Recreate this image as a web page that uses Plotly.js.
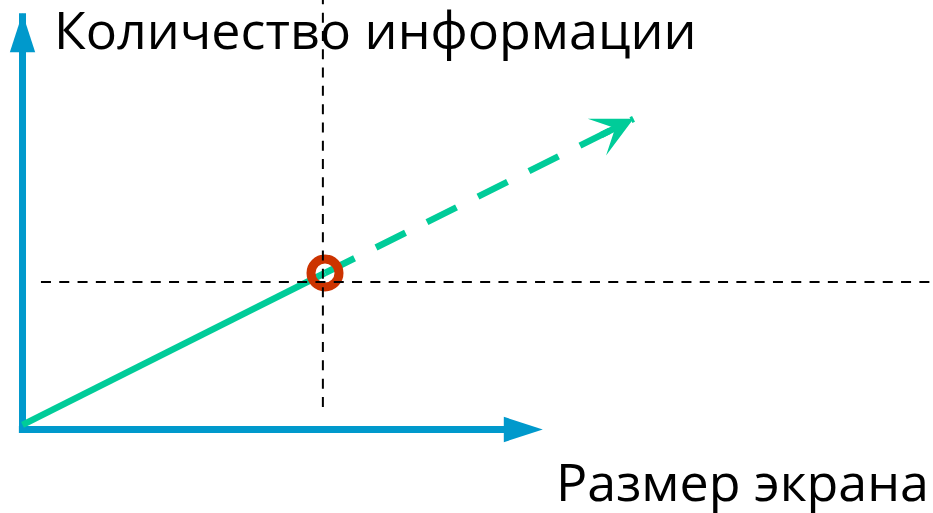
<!DOCTYPE html>
<html>
<head>
<meta charset="utf-8">
<script src="https://cdn.plot.ly/plotly-3.0.1.min.js"></script>
<style>html,body{margin:0;padding:0;background:#fff;}#chart{width:933px;height:513px;}</style>
</head>
<body>
<div id="chart"></div>
<script>
// Conceptual diagram: units where the marked point is (1, 1)
const axisX = [-0.012, 1.72];          // horizontal axis arrow (x values, y = 0)
const axisY = [0, 2.66];               // vertical axis arrow (y values, x = 0)
const solidX = [0.0, 1.0];             // solid part of the trend
const solidY = [0.03, 1.0];
const dashedX = [1.0, 2.02];           // extrapolated (dashed) part of the trend
const dashedY = [1.0, 1.985];
const pointX = [1.0];                  // marked point
const pointY = [1.0];
const refX = 0.993;                    // vertical reference line
const refXSpan = [0.144, 2.75];
const refY = 0.9425;                   // horizontal reference line
const refYSpan = [0.061, 3.0];
const yLabel = 'Количество информации';
const xLabel = 'Размер экрана';

const blue = '#0099CC', green = '#00CC99', red = '#CC3300';

const traces = [
  {x: axisX, y: axisX.map(() => 0), mode: 'lines+markers', line: {color: blue, width: 7},
   marker: {symbol: 'arrow', size: 41, angleref: 'previous', color: blue, line: {width: 0}}, hoverinfo: 'skip'},
  {x: axisY.map(() => 0), y: axisY, mode: 'lines+markers', line: {color: blue, width: 7},
   marker: {symbol: 'arrow', size: 41, angleref: 'previous', color: blue, line: {width: 0}}, hoverinfo: 'skip'},
  {x: solidX, y: solidY, mode: 'lines', line: {color: green, width: 6.5}, hoverinfo: 'skip'},
  {x: dashedX, y: dashedY, mode: 'lines', line: {color: green, width: 6.5, dash: '33px,24px'}, hoverinfo: 'skip'},
  {x: pointX, y: pointY, mode: 'markers', marker: {symbol: 'circle-open', size: 28, color: red, line: {color: red, width: 9}}, hoverinfo: 'skip'},
  {x: [refX, refX], y: refXSpan, mode: 'lines', line: {color: '#000', width: 2, dash: '10px,8.3px'}, hoverinfo: 'skip'},
  {x: refYSpan, y: [refY, refY], mode: 'lines', line: {color: '#000', width: 2, dash: '10px,8.3px'}, hoverinfo: 'skip'}
];

const n = dashedX.length - 1;
const tailF = 0.89;
const tailX = dashedX[0] + tailF * (dashedX[n] - dashedX[0]);
const tailY = dashedY[0] + tailF * (dashedY[n] - dashedY[0]);

const layout = {
  width: 933, height: 513,
  margin: {l: 0, r: 0, t: 0, b: 0},
  paper_bgcolor: '#fff', plot_bgcolor: '#fff',
  showlegend: false,
  xaxis: {range: [-0.0744, 3.010], visible: false, fixedrange: true},
  yaxis: {range: [-0.5335, 2.7444], visible: false, fixedrange: true},
  annotations: [
    {x: dashedX[n], y: dashedY[n], ax: tailX, ay: tailY, axref: 'x', ayref: 'y', xref: 'x', yref: 'y',
     text: '', showarrow: true, arrowhead: 3, arrowsize: 1.05, arrowwidth: 6.5, arrowcolor: green},
    {xref: 'paper', yref: 'paper', x: 52 / 933, y: 1 - 28 / 513, xanchor: 'left', yanchor: 'middle',
     text: yLabel, showarrow: false, font: {family: 'Open Sans', size: 52, color: '#000'}},
    {xref: 'paper', yref: 'paper', x: 931 / 933, y: 1 - 480 / 513, xanchor: 'right', yanchor: 'middle',
     text: xLabel, showarrow: false, font: {family: 'Open Sans', size: 52, color: '#000'}}
  ]
};

Plotly.newPlot('chart', traces, layout, {displayModeBar: false, staticPlot: true});
</script>
</body>
</html>
